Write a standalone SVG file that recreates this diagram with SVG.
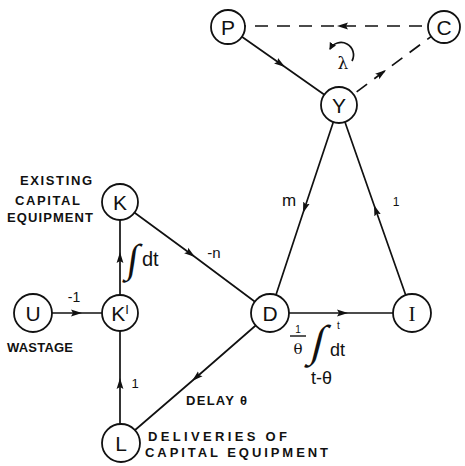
<svg xmlns="http://www.w3.org/2000/svg" width="465" height="466" viewBox="0 0 465 466">
  <style>
    .edge { fill: none; stroke: #111; stroke-width: 1.7; marker-mid: url(#arrow); }
    .dash { stroke-dasharray: 13 9; }
    .node circle { fill: #fff; stroke: #111; stroke-width: 1.8; }
    .node text { font-family: "Liberation Sans", Arial, sans-serif; font-size: 21px; fill: #111; text-anchor: middle; }
    .cap { font-family: "Liberation Sans", Arial, sans-serif; font-size: 13px; font-weight: bold; fill: #111; }
    .lbl { font-family: "Liberation Sans", Arial, sans-serif; fill: #111; }
    .math { font-family: "DejaVu Serif", "Liberation Serif", serif; fill: #111; }
    .intg { font-family: "Liberation Serif", "DejaVu Serif", serif; fill: #111; }
  </style>
  <defs>
    <marker id="arrow" markerUnits="userSpaceOnUse" markerWidth="12" markerHeight="8" refX="11" refY="4" orient="auto">
      <path d="M0,0.6 L11,4 L0,7.4 L2,4 z" fill="#111"/>
    </marker>
    <marker id="arrowSmall" markerUnits="userSpaceOnUse" markerWidth="8" markerHeight="8" refX="6" refY="4" orient="auto">
      <path d="M0,0.5 L7,4 L0,7.5 z" fill="#111"/>
    </marker>
  </defs>
  <rect width="465" height="466" fill="#fff"/>

  <!-- connectors: each polyline's middle vertex carries the arrowhead -->
  <g id="connectors">
    <polyline id="e-P-Y" class="edge" points="228,27 285,67 339,105"/>
    <polyline id="e-C-P" class="edge dash" points="444,26 337,26 228,26"/>
    <polyline id="e-Y-C" class="edge dash" points="339,105 386,70 444,27"/>
    <polyline id="e-Y-D" class="edge" points="339,105 303,213 270,313"/>
    <polyline id="e-I-Y" class="edge" points="412,313 374,205 339,105"/>
    <polyline id="e-K-D" class="edge" points="120,202 195,257 270,313"/>
    <polyline id="e-K1-K" class="edge" points="120,313 120,252 120,202"/>
    <polyline id="e-U-K1" class="edge" points="33,313 82,313 120,313"/>
    <polyline id="e-L-K1" class="edge" points="120,443 120,378 120,313"/>
    <polyline id="e-D-L" class="edge" points="270,313 192,381 120,443"/>
    <polyline id="e-D-I" class="edge" points="270,313 348,313 412,313"/>
  </g>

  <!-- loop rotation sign -->
  <g id="loop-lambda">
    <path d="M352,61 A11,11 0 1 0 330,49" fill="none" stroke="#111" stroke-width="1.7" marker-end="url(#arrowSmall)"/>
    <text class="math" x="343" y="69" font-size="17" text-anchor="middle">λ</text>
  </g>

  <!-- edge labels -->
  <g id="edge-labels">
    <text class="lbl" x="289" y="206" font-size="17" text-anchor="middle">m</text>
    <text class="lbl" x="396" y="206" font-size="12" text-anchor="middle">1</text>
    <text class="lbl" x="214" y="258" font-size="15" text-anchor="middle">-n</text>
    <text class="intg" x="126" y="272" font-size="40" transform="skewX(-8) translate(38,0)">∫</text>
    <text class="lbl" x="142" y="266" font-size="20">dt</text>
    <text class="lbl" x="74" y="302" font-size="14" text-anchor="middle">-1</text>
    <text class="lbl" x="135" y="388" font-size="13" text-anchor="middle">1</text>
    <text class="cap" x="186" y="405" font-size="12" textLength="61" lengthAdjust="spacing">DELAY θ</text>
    <text class="lbl" x="298" y="333" font-size="10" text-anchor="middle">1</text>
    <line x1="290" y1="336" x2="306" y2="336" stroke="#111" stroke-width="1.4"/>
    <text class="math" x="298" y="354" font-size="15" text-anchor="middle">θ</text>
    <text class="intg" x="309" y="356" font-size="44" transform="skewX(-14) translate(89,0)">∫</text>
    <text class="lbl" x="337" y="329" font-size="10">t</text>
    <text class="lbl" x="330" y="356" font-size="18">dt</text>
    <text class="lbl" x="311" y="384" font-size="18">t-θ</text>
  </g>

  <!-- node captions -->
  <g id="captions">
    <text class="cap" x="20" y="185" textLength="72" lengthAdjust="spacing">EXISTING</text>
    <text class="cap" x="15" y="205" textLength="65" lengthAdjust="spacing">CAPITAL</text>
    <text class="cap" x="7" y="222" textLength="86" lengthAdjust="spacing">EQUIPMENT</text>
    <text class="cap" x="7" y="352" textLength="66" lengthAdjust="spacing">WASTAGE</text>
    <text class="cap" x="148" y="441" font-size="14" textLength="139" lengthAdjust="spacing">DELIVERIES OF</text>
    <text class="cap" x="145" y="457" font-size="14" textLength="183" lengthAdjust="spacing">CAPITAL EQUIPMENT</text>
  </g>

  <!-- nodes -->
  <g id="node-P" class="node"><circle cx="228" cy="27" r="17"/><text x="228" y="35">P</text></g>
  <g id="node-C" class="node"><circle cx="444" cy="27" r="16"/><text x="444" y="35">C</text></g>
  <g id="node-Y" class="node"><circle cx="339" cy="105" r="18"/><text x="339" y="113">Y</text></g>
  <g id="node-K" class="node"><circle cx="120" cy="202" r="18"/><text x="120" y="210">K</text></g>
  <g id="node-K1" class="node"><circle cx="120" cy="313" r="18"/><text x="120" y="321">K<tspan font-size="13" dy="-7">I</tspan></text></g>
  <g id="node-U" class="node"><circle cx="33" cy="313" r="19"/><text x="33" y="321">U</text></g>
  <g id="node-D" class="node"><circle cx="270" cy="313" r="19"/><text x="270" y="321">D</text></g>
  <g id="node-I" class="node"><circle cx="412" cy="313" r="19"/><text x="412" y="321" style="font-family: 'Liberation Serif', serif">I</text></g>
  <g id="node-L" class="node"><circle cx="121" cy="443" r="19"/><text x="121" y="451">L</text></g>
</svg>
